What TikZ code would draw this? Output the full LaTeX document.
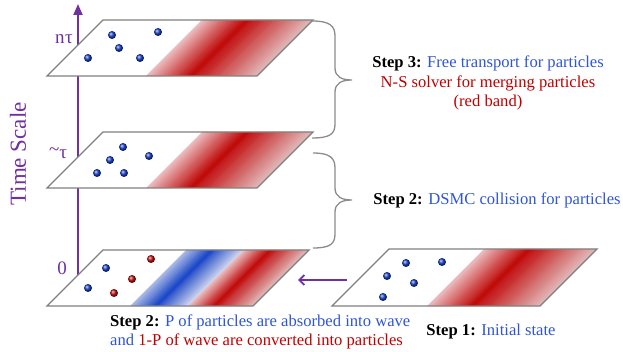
\documentclass[tikz,border=0pt]{standalone}
\usepackage{fontspec}
\setmainfont{Liberation Serif}
\usetikzlibrary{arrows.meta}
\definecolor{tblue}{RGB}{47,85,212}
\definecolor{tred}{RGB}{192,0,0}
\definecolor{tpurple}{RGB}{112,48,160}
\definecolor{edgegray}{RGB}{128,128,128}
\definecolor{bracegray}{RGB}{140,140,140}
\definecolor{redL}{RGB}{236,192,194}
\definecolor{redD}{RGB}{192,8,8}
\definecolor{redR}{RGB}{226,184,184}
\definecolor{bluL}{RGB}{175,190,232}
\definecolor{bluD}{RGB}{25,70,200}
\definecolor{bluR}{RGB}{210,216,240}
\definecolor{dotblue}{RGB}{20,60,200}
\definecolor{dotred}{RGB}{190,10,10}

\newcommand\myband[8]{%
 \pgfmathsetmacro\myoff{#3-#4}%
 \foreach \i in {0,...,59}{%
   \pgfmathsetmacro\myt{(\i+0.5)/60}%
   \pgfmathsetmacro\myxa{#1+(#2-#1)*\i/60}%
   \pgfmathsetmacro\myxb{#1+(#2-#1)*(\i+1)/60+0.5}%
   \ifdim\myt pt<#8pt
     \pgfmathsetmacro\mypp{100*\myt/#8}%
     \colorlet{tmpc}{#6!\mypp!#5}%
   \else
     \pgfmathsetmacro\mypp{100*(\myt-#8)/(1-#8)}%
     \colorlet{tmpc}{#7!\mypp!#6}%
   \fi
   \fill[tmpc] (\myxa,#3) -- (\myxb,#3) -- (\myxb+\myoff,#4) -- (\myxa+\myoff,#4) -- cycle;
 }}

\newcommand\myplane[5]{% name, x0, x1, yb, yt
 \pgfmathsetmacro\myoffp{#4-#5}%
 \coordinate (#1-a) at (#2,#4);
 \coordinate (#1-b) at (#3,#4);
 \coordinate (#1-c) at (#3+\myoffp,#5);
 \coordinate (#1-d) at (#2+\myoffp,#5);
}

\tikzset{
  planefill/.style={fill=white},
  planeedge/.style={draw=edgegray, line width=1.4pt, line join=miter},
  bdot/.style={ball color=dotblue},
  rdot/.style={ball color=dotred},
  bracestyle/.style={draw=bracegray, line width=1.3pt},
  purplearrow/.style={draw=tpurple, line width=1.8pt},
  steptext/.style={font=\fontsize{16.6}{19.8}\selectfont, inner sep=0pt},
  axlabel/.style={text=tpurple, font=\fontsize{19}{21}\selectfont, inner sep=0pt},
}

\begin{document}
\begin{tikzpicture}[x=1pt,y=-1pt]
\useasboundingbox (0,0) rectangle (623,352);

% time axis
\coordinate (ax0) at (78,276);
\coordinate (ax1) at (78,4);
\draw[purplearrow, -{Triangle[length=11pt,width=9pt]}] (ax0) -- (ax1);

% planes
\myplane{top}{47}{257}{76}{20}
\myplane{mid}{47}{257}{188}{132}
\myplane{bot}{47}{253}{306}{250}
\myplane{ini}{332}{540}{306}{249}

\foreach \p in {top,mid,bot,ini}{
  \fill[planefill] (\p-a) -- (\p-b) -- (\p-c) -- (\p-d) -- cycle;
}

\myband{146}{257}{76}{20}{redL}{redD}{redR}{0.4}
\myband{146}{257}{188}{132}{redL}{redD}{redR}{0.4}
\myband{130}{188}{306}{250}{bluL}{bluD}{bluR}{0.45}
\myband{188}{253}{306}{250}{redL}{redD}{redR}{0.4}
\myband{427}{540}{306}{249}{redL}{redD}{redR}{0.4}

\foreach \p in {top,mid,bot,ini}{
  \draw[planeedge] (\p-a) -- (\p-b) -- (\p-c) -- (\p-d) -- cycle;
}

% particles
\foreach \x/\y in {112/35,158/32,119/48,88/58,140/58,
                   123/147,110/160,149/156,97/173,124/173,
                   106/268,88/288,
                   406/263,442/262,387/276,414/283,383/297}{
  \shade[bdot] (\x,\y) circle[radius=4pt];
}
\foreach \x/\y in {151/259,132/279,114/293}{
  \shade[rdot] (\x,\y) circle[radius=4pt];
}

% horizontal arrow
\coordinate (ha) at (347,280);
\coordinate (hb) at (298,280);
\draw[purplearrow, -{Straight Barb[length=5pt,width=10pt]}] (ha) -- (hb);

% braces
\coordinate (b3s) at (312,21);
\coordinate (b3t) at (352,80);
\coordinate (b3e) at (312,138);
\draw[bracestyle] (b3s) .. controls (330,21) and (335,26) .. (335,36) -- (335,68)
  .. controls (335,77) and (342,80) .. (b3t)
  .. controls (342,80) and (335,83) .. (335,92) -- (335,124)
  .. controls (335,134) and (330,138) .. (b3e);
\coordinate (b2s) at (313,153);
\coordinate (b2t) at (352,200);
\coordinate (b2e) at (313,248);
\draw[bracestyle] (b2s) .. controls (330,153) and (335,158) .. (335,168) -- (335,188)
  .. controls (335,197) and (342,200) .. (b2t)
  .. controls (342,200) and (335,203) .. (335,212) -- (335,234)
  .. controls (335,244) and (330,248) .. (b2e);

% axis labels
\node[axlabel] (lnt) at (64,39) {n\kern0.5pt τ};
\node[axlabel] (ltau) at (58,153) {\raisebox{3pt}{\textasciitilde}τ};
\node[axlabel] (lzero) at (62,268) {0};
\node[text=tpurple, font=\fontsize{23}{25}\selectfont, rotate=90, inner sep=0pt] (ltime) at (18,154) {Time Scale};

% step texts
\node[steptext, align=center] (s3) at (488,83) {\textbf{Step 3:} \textcolor{tblue}{Free transport for particles}\\
  \textcolor{tred}{N-S solver for merging particles}\\
  \textcolor{tred}{(red band)}};
\node[steptext] (s2a) at (497,200) {\textbf{Step 2:} \textcolor{tblue}{DSMC collision for particles}};
\node[steptext, align=left, anchor=west] (s2b) at (110,332) {\textbf{Step 2:} \textcolor{tblue}{P of particles are absorbed into wave}\\
  \textcolor{tblue}{and} \textcolor{tred}{1-P of wave are converted into particles}};
\node[steptext] (s1) at (491,332) {\textbf{Step 1:} \textcolor{tblue}{Initial state}};
\end{tikzpicture}
\end{document}
